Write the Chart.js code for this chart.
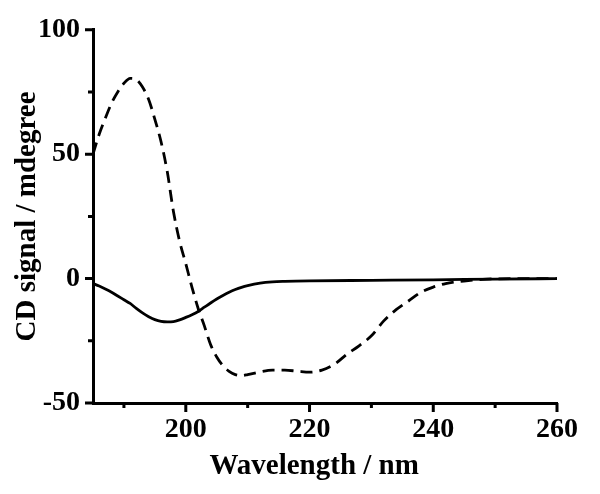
<!DOCTYPE html>
<html>
<head>
<meta charset="utf-8">
<script src="https://cdn.jsdelivr.net/npm/chart.js@4/dist/chart.umd.min.js"></script>
<style>
  html, body { margin: 0; padding: 0; background: #fff; }
  #wrap { width: 600px; height: 494px; }
</style>
</head>
<body>
<div id="wrap"><canvas id="cd"></canvas></div>
<script>
// wavelength (nm) and CD signal (mdeg)
const dashedWavelength = [185, 186, 187, 188, 189, 190, 191, 192, 193, 194, 195, 196, 197, 198, 199, 200,
    201, 202, 203, 204, 205, 206, 207, 208, 209, 210, 212, 214, 216, 218, 220, 222, 224, 226, 228, 230,
    232, 234, 236, 238, 240, 242, 244, 246, 248, 250, 255, 260];
const dashedSignal = [50, 58, 64.5, 70.5, 75, 78.5, 80.5, 80, 77, 72, 64, 55, 43, 27, 15, 6,
    -3.5, -12, -19, -26.5, -31.5, -35, -37.3, -38.6, -39, -38.6, -37.5, -36.8, -36.8, -37.2, -37.6, -36.8, -34.5, -30.5, -27, -23,
    -17, -12.5, -9, -5.5, -3.4, -2, -1.2, -0.7, -0.3, -0.1, 0, 0];

const solidWavelength = [185, 186, 187, 188, 189, 190, 191, 192, 193, 194, 195, 196, 197, 198, 199, 200,
    201, 202, 203, 204, 205, 206, 207, 208, 209, 210, 212, 214, 216, 220, 230, 240, 250, 260];
const solidSignal = [-2, -3, -4.2, -5.5, -7, -8.5, -10, -12, -13.8, -15.3, -16.5, -17.2, -17.4, -17.3, -16.6, -15.6,
    -14.5, -13.2, -11.5, -9.8, -8.2, -6.8, -5.5, -4.4, -3.5, -2.8, -1.8, -1.3, -1.1, -0.9, -0.7, -0.5, -0.2, 0];

const xMajorTicks = [200, 220, 240, 260];
const xMinorTicks = [190, 210, 230, 250];
const yMajorTicks = [-50, 0, 50, 100];
const yMinorTicks = [-25, 25, 75];

const fontFamily = '"Liberation Serif", "Times New Roman", serif';

function toPoints(xs, ys) {
    return xs.map((x, i) => ({ x: x, y: ys[i] }));
}

// draws outward tick marks, long for major and short for minor
const tickMarks = {
    id: 'tickMarks',
    afterDraw(chart) {
        const ctx = chart.ctx;
        const xs = chart.scales.x;
        const ys = chart.scales.y;
        const area = chart.chartArea;
        ctx.save();
        ctx.strokeStyle = '#000';
        ctx.lineWidth = 3;
        ctx.beginPath();
        xMajorTicks.forEach(v => {
            const px = xs.getPixelForValue(v);
            ctx.moveTo(px, area.bottom);
            ctx.lineTo(px, area.bottom + 9);
        });
        xMinorTicks.forEach(v => {
            const px = xs.getPixelForValue(v);
            ctx.moveTo(px, area.bottom);
            ctx.lineTo(px, area.bottom + 5);
        });
        yMajorTicks.forEach(v => {
            const py = ys.getPixelForValue(v);
            ctx.moveTo(area.left, py);
            ctx.lineTo(area.left - 8, py);
        });
        yMinorTicks.forEach(v => {
            const py = ys.getPixelForValue(v);
            ctx.moveTo(area.left, py);
            ctx.lineTo(area.left - 5, py);
        });
        ctx.stroke();
        ctx.restore();
    }
};

new Chart(document.getElementById('cd'), {
    type: 'line',
    data: {
        datasets: [
            {
                label: 'dashed',
                data: toPoints(dashedWavelength, dashedSignal),
                borderColor: '#000',
                borderWidth: 2.8,
                borderDash: [12, 7],
                pointRadius: 0,
                cubicInterpolationMode: 'monotone',
                fill: false
            },
            {
                label: 'solid',
                data: toPoints(solidWavelength, solidSignal),
                borderColor: '#000',
                borderWidth: 2.8,
                pointRadius: 0,
                cubicInterpolationMode: 'monotone',
                fill: false
            }
        ]
    },
    options: {
        responsive: true,
        maintainAspectRatio: false,
        animation: false,
        layout: { padding: { left: 0, top: 25, right: 43, bottom: 0 } },
        plugins: {
            legend: { display: false },
            tooltip: { enabled: false }
        },
        scales: {
            x: {
                type: 'linear',
                min: 185,
                max: 260,
                afterBuildTicks: scale => { scale.ticks = xMajorTicks.map(v => ({ value: v })); },
                afterFit: scale => { scale.height = 91; },
                grid: { display: false, drawTicks: false },
                border: { display: true, color: '#000', width: 3 },
                ticks: {
                    color: '#000',
                    padding: 10,
                    maxRotation: 0,
                    font: { family: fontFamily, size: 28, weight: 'bold' }
                },
                title: {
                    display: true,
                    // trailing spaces nudge the centred title a bit to the left, as in the original
                    text: 'Wavelength / nm   ',
                    color: '#000',
                    padding: { top: 0, bottom: 10 },
                    font: { family: fontFamily, size: 29, weight: 'bold' }
                }
            },
            y: {
                min: -50,
                max: 100,
                afterBuildTicks: scale => { scale.ticks = yMajorTicks.map(v => ({ value: v })); },
                afterFit: scale => { scale.width = 93; },
                grid: { display: false, drawTicks: false },
                border: { display: true, color: '#000', width: 3 },
                ticks: {
                    color: '#000',
                    padding: 13,
                    font: { family: fontFamily, size: 28, weight: 'bold' }
                },
                title: {
                    display: true,
                    text: 'CD signal / mdegree',
                    color: '#000',
                    padding: { top: 10, bottom: 0 },
                    font: { family: fontFamily, size: 29, weight: 'bold' }
                }
            }
        }
    },
    plugins: [tickMarks]
});
</script>
</body>
</html>
